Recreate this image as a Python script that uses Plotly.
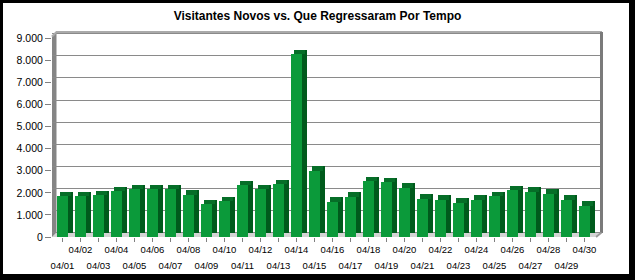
import plotly.graph_objects as go

# ---- data ----
dates = ["04/%02d" % d for d in range(1, 31)]
visits = [1850, 1850, 1890, 2070, 2160, 2160, 2160, 1920, 1480, 1630,
          2345, 2160, 2390, 8280, 2995, 1600, 1815, 2530, 2470, 2240,
          1725, 1680, 1560, 1680, 1850, 2120, 2040, 1950, 1680, 1420]
y_ticks = [0, 1000, 2000, 3000, 4000, 5000, 6000, 7000, 8000, 9000]
title = "Visitantes Novos vs. Que Regressaram Por Tempo"

# ---- geometry (pixels) ----
W, H = 635, 280
L, R, T, B = 52, 600, 32, 237
pw, ph = R - L, B - T
step = 18.0
depth_px_x, depth_px_y = 5.0, 4.5
x_lo = -(62.5 - L) / step
x_hi = x_lo + pw / step
y_top_front = 9285.0
depth_val = depth_px_y / ph * y_top_front

def px(x):
    return (x - L) / pw

def py(y):
    return (B - y) / ph

idx = list(range(len(dates)))
bw = 11.0 / step
off_front = -bw / 2
off_side = off_front + depth_px_x / step
off_top = off_front + depth_px_x / step / 2

fig = go.Figure()
# side (dark), drawn on the shifted (back) axis
fig.add_trace(go.Bar(x=idx, y=visits, width=bw, offset=off_side,
                     marker=dict(color="#005a1c", line=dict(width=0)),
                     xaxis="x", yaxis="y", hoverinfo="skip", showlegend=False))
# top face
fig.add_trace(go.Bar(x=idx, y=[depth_val] * len(visits),
                     base=[v - depth_val for v in visits], width=bw, offset=off_top,
                     marker=dict(color="#066e28", line=dict(width=0)),
                     xaxis="x", yaxis="y", hoverinfo="skip", showlegend=False))
# front face
fig.add_trace(go.Bar(x=idx, y=visits, width=bw, offset=off_front,
                     marker=dict(color="#0b9a3a", line=dict(width=0)),
                     xaxis="x2", yaxis="y2", showlegend=False))

row1 = [i for i in idx if i % 2 == 1]
row2 = [i for i in idx if i % 2 == 0]
tickfont = dict(family="Liberation Sans", size=9.5, color="#000000")

shapes = [
    # white inner area (black frame = paper bg)
    dict(type="rect", xref="paper", yref="paper", layer="below",
         x0=px(3), x1=px(629), y0=py(274), y1=py(3),
         fillcolor="#ffffff", line=dict(width=0)),
    # floor
    dict(type="path", xref="paper", yref="paper", layer="between",
         path=f"M {px(L)} {py(B)} L {px(R-5)} {py(B)} L {px(R)} {py(B-4.5)} L {px(L+4.5)} {py(B-4.5)} Z",
         fillcolor="#d4d4d4", line=dict(width=0)),
    # left wall
    dict(type="path", xref="paper", yref="paper", layer="between",
         path=f"M {px(L)} {py(B)} L {px(L+4.5)} {py(B-4.5)} L {px(L+4.5)} {py(T)} L {px(L)} {py(T+4.5)} Z",
         fillcolor="#858585", line=dict(width=0)),
    # top border
    dict(type="path", xref="paper", yref="paper", layer="above",
         path=f"M {px(L)} {py(T+4.5)} L {px(L+4.5)} {py(T)} L {px(R+2)} {py(T)}",
         line=dict(color="#aaaaaa", width=2)),
    # right edge
    dict(type="rect", xref="paper", yref="paper", layer="above",
         x0=px(R), x1=px(R+3), y0=py(B-4), y1=py(T),
         fillcolor="#7a7a7a", line=dict(width=0)),
    dict(type="line", xref="paper", yref="paper", layer="above",
         x0=px(R+1.5), y0=py(B-4.5), x1=px(R-4), y1=py(B),
         line=dict(color="#9a9a9a", width=2)),
]

fig.update_layout(
    width=W, height=H,
    margin=dict(l=L, r=W - R, t=T, b=H - B, pad=0, autoexpand=False),
    paper_bgcolor="#000000",
    plot_bgcolor="#f1edf1",
    barmode="overlay",
    bargap=0,
    separators=",.",
    showlegend=False,
    title=dict(text="<b>" + title + "</b>", x=0.5, xref="container", xanchor="center",
               y=1 - 16 / H, yref="container", yanchor="middle",
               font=dict(family="Liberation Sans", size=12, color="#000000")),
    xaxis=dict(range=[x_lo, x_hi], tickvals=row1, ticktext=[dates[i] for i in row1],
               ticks="outside", ticklen=4, tickcolor="#808080", showgrid=False,
               zeroline=False, showline=False, tickfont=tickfont, anchor="y",
               ticklabelstandoff=0, automargin=False, fixedrange=True),
    xaxis2=dict(range=[x_lo, x_hi], overlaying="x", matches="x", anchor="y2",
                tickvals=row2, ticktext=[dates[i] for i in row2],
                ticks="outside", ticklen=4, tickcolor="#808080", showgrid=False,
                zeroline=False, showline=False, tickfont=tickfont,
                ticklabelstandoff=16, side="bottom", automargin=False),
    yaxis=dict(range=[-depth_val, y_top_front - depth_val], tickvals=y_ticks,
               showticklabels=False, ticks="", showgrid=True, gridcolor="#8a8a8a",
               gridwidth=1, zeroline=False, showline=False, automargin=False),
    yaxis2=dict(range=[0, y_top_front], overlaying="y", anchor="x", side="left",
                tickvals=y_ticks, tickformat=",d", showgrid=False, zeroline=False,
                showline=False, ticks="outside", ticklen=6, tickcolor="#808080",
                automargin=False,
                tickfont=dict(family="Liberation Sans", size=10.5, color="#000000")),
    shapes=shapes,
)

fig.write_html("out.html")
